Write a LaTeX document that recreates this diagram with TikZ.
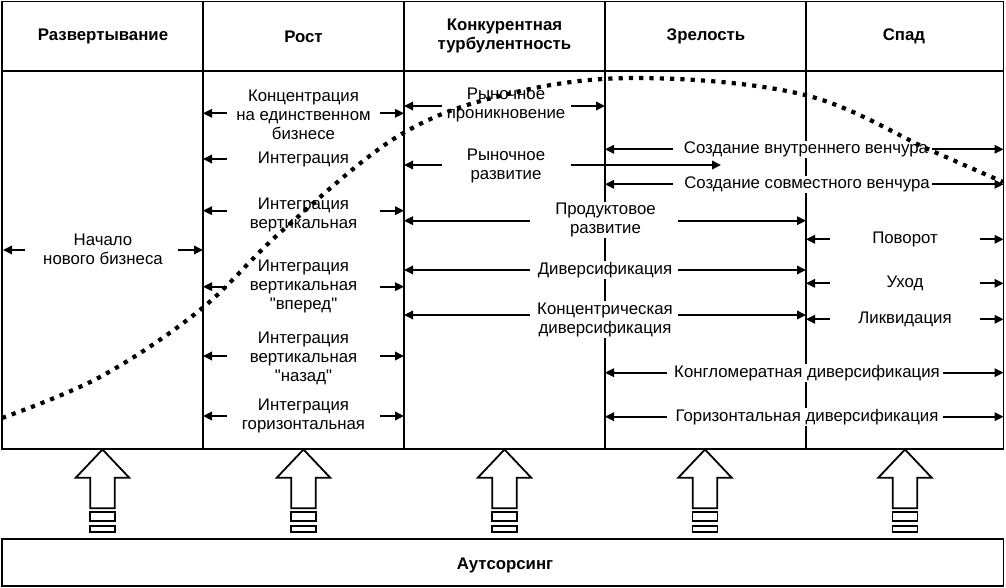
\documentclass[tikz,border=0pt]{standalone}
\usepackage{fontspec}
\setmainfont{Liberation Sans}[Ligatures=TeXOff]
\usetikzlibrary{arrows.meta}
\begin{document}
\begin{tikzpicture}[x=1pt,y=-1pt,
  frame/.style={line width=1.8pt},
  arr/.style={line width=1.8pt,-{Triangle[length=9pt,width=8.5pt]}},
  txt/.style={fill=white,inner sep=1pt,align=center,font=\fontsize{16.8}{19}\selectfont},
  hdr/.style={align=center,font=\bfseries\fontsize{16.8}{19.3}\selectfont},
  dotcurve/.style={line width=4.2pt,dash pattern=on 4.2pt off 6.1pt},
  blockarr/.style={line width=1.8pt,fill=white}]
\useasboundingbox (0,0) rectangle (1006,588);
% frame
\draw[frame] (2,1.5) rectangle (1003.5,449);
\draw[frame] (2,71) -- (1003.5,71);
\foreach \x in {203,404,605,806} \draw[frame] (\x,1.5) -- (\x,449);
\draw[frame] (2,539) rectangle (1003.5,586);
% headers
\node[hdr] (h1) at (103,36.5) {Развертывание};
\node[hdr] (h2) at (303.5,36.5) {Рост};
\node[hdr] (h3) at (504.5,36.3) {Конкурентная\\турбулентность};
\node[hdr] (h4) at (706,36.5) {Зрелость};
\node[hdr] (h5) at (904,36.5) {Спад};
\node[hdr] (out) at (505,565) {Аутсорсинг};
% column 1 arrows
\draw[arr] (25,250) -- (3,250);
\draw[arr] (178,250) -- (203,250);
% column 2 arrows
\foreach \y in {113.3,210.7,286.7,356,416} {
  \draw[arr] (227,\y) -- (203,\y);
  \draw[arr] (380,\y) -- (404,\y);
}
\draw[arr] (227,159) -- (203,159);
% column 3 arrows
\draw[arr] (442,106) -- (404,106);
\draw[arr] (571,106) -- (605,106);
\draw[arr] (442,165) -- (404,165);
\draw[arr] (571,165) -- (721,165);
\foreach \y in {220.7,270,315} {
  \draw[arr] (530,\y) -- (404,\y);
  \draw[arr] (677.7,\y) -- (806,\y);
}
% column 4-5 arrows
\foreach \y in {149.3,184.3} {
  \draw[arr] (673,\y) -- (605,\y);
  \draw[arr] (932,\y) -- (1003.5,\y);
}
\foreach \y in {372.7,416.7} {
  \draw[arr] (667,\y) -- (605,\y);
  \draw[arr] (943,\y) -- (1003.5,\y);
}
\foreach \y in {239.3,283.3,319.3} {
  \draw[arr] (830,\y) -- (806,\y);
  \draw[arr] (980,\y) -- (1003.5,\y);
}
% texts
\node[txt] (n1) at (103,249.7) {Начало\\нового бизнеса};
\node[txt] (c2a) at (303.5,114.5) {Концентрация\\на единственном\\бизнесе};
\node[txt] (c2b) at (303.5,159.3) {Интеграция};
\node[txt] (c2c) at (303.5,214.5) {Интеграция\\вертикальная};
\node[txt] (c2d) at (303.5,286.4) {Интеграция\\вертикальная\\"вперед"};
\node[txt] (c2e) at (303.5,358) {Интеграция\\вертикальная\\"назад"};
\node[txt] (c2f) at (303.5,416.3) {Интеграция\\горизонтальная};
\node[txt] (c3a) at (506,105) {Рыночное\\проникновение};
\node[txt] (c3b) at (506,166.3) {Рыночное\\развитие};
\node[txt] (c3c) at (605.5,220) {Продуктовое\\развитие};
\node[txt] (c3d) at (605,270) {Диверсификация};
\node[txt] (c3e) at (605,319.5) {Концентрическая\\диверсификация};
\node[txt] (c4a) at (806,149.3) {Создание внутреннего венчура};
\node[txt] (c4b) at (807,184.3) {Создание совместного венчура};
\node[txt] (c4c) at (807,372.7) {Конгломератная диверсификация};
\node[txt] (c4d) at (807,416.7) {Горизонтальная диверсификация};
\node[txt] (c5a) at (905,239.3) {Поворот};
\node[txt] (c5b) at (905,283.3) {Уход};
\node[txt] (c5c) at (905,319.3) {Ликвидация};
% block arrows
\foreach \cx in {102.5,303.5,504.5,705,905} {
  \draw[blockarr] (\cx,449.5) -- (\cx+26.7,477.7) -- (\cx+12.3,477.7) -- (\cx+12.3,508.3)
    -- (\cx-12.3,508.3) -- (\cx-12.3,477.7) -- (\cx-26.7,477.7) -- cycle;
  \draw[blockarr] (\cx-12.5,512) rectangle (\cx+12.5,521);
  \draw[blockarr] (\cx-12.5,526) rectangle (\cx+12.5,532);
}
% life-cycle curve
\draw[dotcurve] plot[smooth,tension=0.6] coordinates {(2,418) (100,377) (200,310) (283,230) (400,135) (512,93) (640,78) (805,95) (930,150) (1003,182)};
\end{tikzpicture}
\end{document}
